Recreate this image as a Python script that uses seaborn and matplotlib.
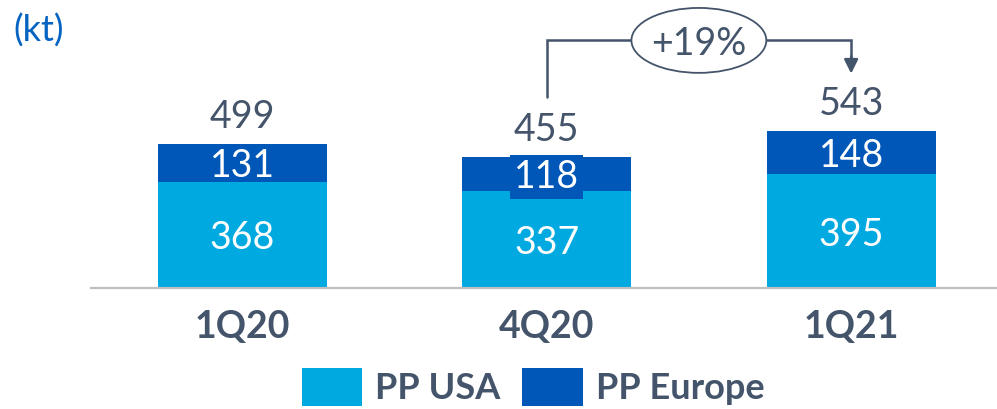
import matplotlib
matplotlib.use("Agg")
import matplotlib.pyplot as plt
import seaborn as sns
import pandas as pd
from matplotlib.patches import Patch, Ellipse

# Data (kt)
quarters = ["1Q20", "4Q20", "1Q21"]
pp_usa = [368, 337, 395]
pp_europe = [131, 118, 148]
totals = [u + e for u, e in zip(pp_usa, pp_europe)]

LIGHT = "#00A9E0"
DARK = "#0057B8"
SLATE = "#44546A"
KT_BLUE = "#0563C1"

sns.set_theme(style="white")
plt.rcParams["font.family"] = ["Lato", "DejaVu Sans"]

df = pd.DataFrame({"quarter": quarters, "usa": pp_usa, "europe": pp_europe, "total": totals})

fig = plt.figure(figsize=(9.97, 4.09), dpi=100)
ax = fig.add_axes([0, 121 / 409, 1, 288 / 409])

sns.barplot(data=df, x="quarter", y="total", color=DARK, width=0.555,
            saturation=1, ax=ax, linewidth=0)
sns.barplot(data=df, x="quarter", y="usa", color=LIGHT, width=0.555,
            saturation=1, ax=ax, linewidth=0)

ax.set_xlim(-0.795, 2.479)
ax.set_ylim(0, 998)
ax.set_xlabel("")
ax.set_ylabel("")
ax.set_yticks([])
for s in ["left", "right", "top"]:
    ax.spines[s].set_visible(False)
ax.spines["bottom"].set_color("#BFBFBF")
ax.spines["bottom"].set_linewidth(1.6)
ax.spines["bottom"].set_bounds(-0.496, 2.479)
ax.tick_params(axis="x", length=0, pad=16)
ax.set_xticks(range(len(quarters)))
ax.set_xticklabels(quarters, fontsize=27, fontweight="bold", color=SLATE)

FS = 27
for i, (u, e, t) in enumerate(zip(pp_usa, pp_europe, totals)):
    ax.text(i, u / 2, str(u), ha="center", va="center_baseline", fontsize=FS, color="white")
    box = None
    if i == 1:
        box = dict(boxstyle="square,pad=0.1", fc=DARK, ec="none")
    ax.text(i, u + e / 2, str(e), ha="center", va="center_baseline", fontsize=FS,
            color="white", bbox=box)
    ax.annotate(str(t), (i, t), xytext=(0, 11.5), textcoords="offset points",
                ha="center", va="baseline", fontsize=FS, color=SLATE)

# growth bracket between 4Q20 and 1Q21
growth = round((totals[2] / totals[1] - 1) * 100)
y_top = 860
ax.plot([1, 1, 2, 2], [totals[1] + 207, y_top, y_top, totals[2] + 230],
        color=SLATE, lw=1.8, clip_on=False, solid_joinstyle="miter")
ax.annotate("", xy=(2, totals[2] + 200), xytext=(2, totals[2] + 260),
            arrowprops=dict(arrowstyle="-|>,head_length=0.7,head_width=0.35",
                            color=SLATE, lw=1.8, shrinkA=0, shrinkB=0))
ell = Ellipse((1.5, y_top - 2), 0.443, 225, fc="white", ec=SLATE, lw=1.3,
              clip_on=False, zorder=5)
ax.add_patch(ell)
ax.text(1.5, y_top - 2, f"+{growth}%", ha="center", va="center_baseline",
        fontsize=FS, color=SLATE, zorder=6)

fig.text(13 / 997, 1 - 31 / 409, "(kt)", ha="left", va="center", fontsize=26, color=KT_BLUE)

handles = [Patch(fc=LIGHT, ec="none"), Patch(fc=DARK, ec="none")]
fig.legend(handles, ["PP USA", "PP Europe"], loc="lower left",
           bbox_to_anchor=(302 / 997, 3 / 409), frameon=False, ncol=2,
           prop=dict(size=26, weight="bold"), labelcolor=SLATE,
           handlelength=1.67, handleheight=1.25, handletextpad=0.36,
           columnspacing=0.6, borderpad=0, borderaxespad=0)

fig.savefig("out.png", dpi=100)
